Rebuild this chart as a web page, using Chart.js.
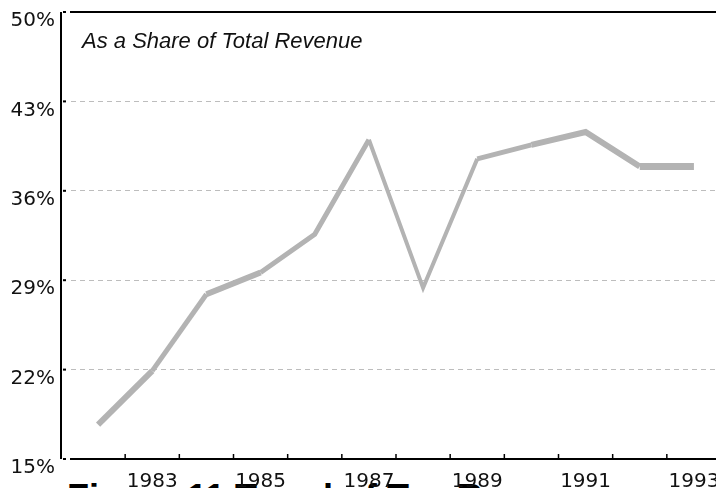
<!DOCTYPE html>
<html>
<head>
<meta charset="utf-8">
<script src="https://cdn.jsdelivr.net/npm/chart.js@4"></script>
<style>
  html, body { margin: 0; padding: 0; background: #fff; overflow: hidden; }
  #wrap { position: relative; width: 716px; height: 488px; overflow: hidden; background: #fff; }
  #box { position: absolute; left: 0; top: 0; width: 721px; height: 488px; }
  #sub { position: absolute; left: 82px; top: 28px; font: italic 22px "Liberation Sans", Arial, sans-serif; color: #111; white-space: nowrap; }
  #cap { position: absolute; left: 67px; top: 480px; font: bold 36px "Liberation Sans", Arial, sans-serif; color: #000; white-space: nowrap; line-height: 1; }
</style>
</head>
<body>
<div id="wrap">
  <div id="cap">Figure 11 Trend of Tax Revenue</div>
  <div id="box"><canvas id="chart"></canvas></div>
  <div id="sub">As a Share of Total Revenue</div>
</div>
<script>
const years = ['1982','1983','1984','1985','1986','1987','1988','1989','1990','1991','1992','1993'];
const shareValues = [17.7, 21.9, 27.9, 29.6, 32.6, 40.0, 28.4, 38.5, 39.6, 40.6, 37.9, 37.9];
const yTicks = [15, 22, 29, 36, 43, 50];

// line looks thicker in some stretches
const segWidths = [6, 5, 6, 5, 5, 4, 4, 5, 6, 6, 7];

const frame = {
  id: 'frame',
  afterDraw(chart) {
    const ctx = chart.ctx;
    const a = chart.chartArea;
    const x = chart.scales.x;
    const y = chart.scales.y;
    ctx.save();
    ctx.strokeStyle = '#000';
    ctx.lineWidth = 2;
    // left axis line, sits a bit left of the plot
    ctx.beginPath();
    ctx.moveTo(a.left - 10, a.top);
    ctx.lineTo(a.left - 10, a.bottom);
    ctx.stroke();
    // top border
    ctx.beginPath();
    ctx.moveTo(a.left - 1, a.top);
    ctx.lineTo(a.right, a.top);
    ctx.stroke();
    // little dots at each y tick
    ctx.fillStyle = '#000';
    yTicks.forEach(v => {
      ctx.fillRect(a.left - 8, y.getPixelForValue(v) - 1, 3, 2);
    });
    // x tick marks between categories, pointing up
    ctx.lineWidth = 1.5;
    for (let i = 0; i < years.length; i++) {
      const px = (x.getPixelForValue(i) + x.getPixelForValue(i + 1)) / 2;
      ctx.beginPath();
      ctx.moveTo(px, a.bottom);
      ctx.lineTo(px, a.bottom - 5);
      ctx.stroke();
    }
    ctx.restore();
  }
};

const ctx = document.getElementById('chart').getContext('2d');
const shareChart = new Chart(ctx, {
  type: 'line',
  data: {
    labels: years,
    datasets: [{
      data: shareValues,
      borderColor: '#b3b3b3',
      borderWidth: 5,
      pointRadius: 0,
      tension: 0,
      borderCapStyle: 'butt',
      borderJoinStyle: 'miter',
      segment: {
        borderWidth: c => segWidths[c.p0DataIndex]
      }
    }]
  },
  options: {
    responsive: true,
    maintainAspectRatio: false,
    animation: false,
    layout: { padding: { top: 12, right: 0, left: 0, bottom: 0 } },
    plugins: {
      legend: { display: false },
      tooltip: { enabled: false }
    },
    scales: {
      x: {
        offset: true,
        grid: { display: false },
        border: { display: true, color: '#000', width: 2 },
        ticks: {
          autoSkip: false,
          maxRotation: 0,
          padding: 3,
          color: '#111',
          font: { family: 'DejaVu Sans', size: 20 },
          callback: function (v, i) { return i % 2 === 1 ? years[i] : ''; }
        },
        afterFit: s => { s.height = 29; s.paddingLeft = 0; s.paddingRight = 0; }
      },
      y: {
        min: 15,
        max: 50,
        afterBuildTicks: s => { s.ticks = yTicks.map(v => ({ value: v })); },
        grid: { color: '#bdbdbd', lineWidth: 1, drawTicks: false },
        border: { display: false, dash: [5, 4] },
        ticks: {
          padding: 16,
          labelOffset: 9,
          color: '#111',
          font: { family: 'DejaVu Sans', size: 20 },
          callback: v => v + '%'
        },
        afterFit: s => { s.width = 71; s.paddingTop = 0; s.paddingBottom = 0; }
      }
    }
  },
  plugins: [frame]
});
</script>
</body>
</html>
